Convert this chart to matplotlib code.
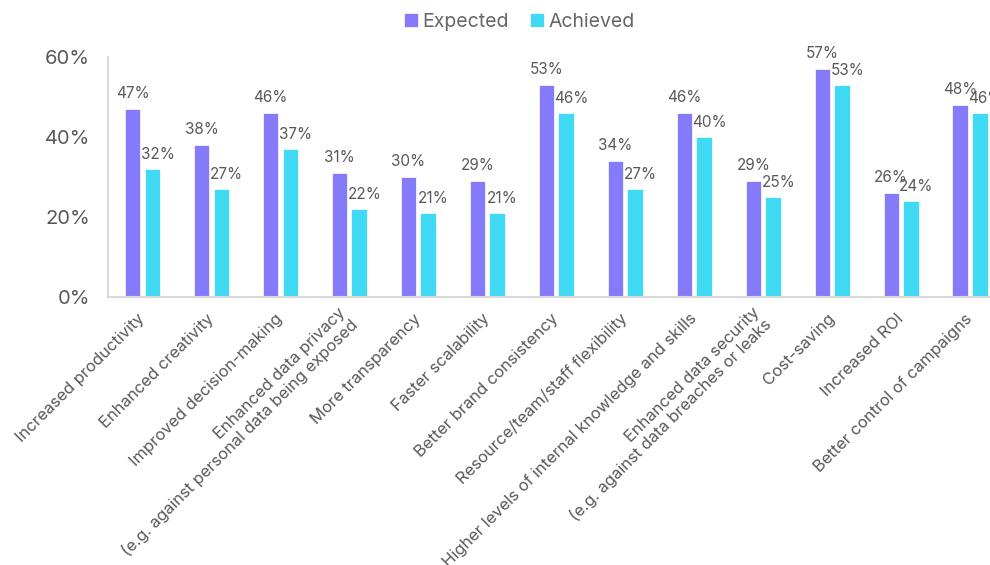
import matplotlib
matplotlib.use("Agg")
import matplotlib.pyplot as plt
import numpy as np

categories = [
    "Increased productivity",
    "Enhanced creativity",
    "Improved decision-making",
    "Enhanced data privacy\n(e.g. against personal data being exposed",
    "More transparency",
    "Faster scalability",
    "Better brand consistency",
    "Resource/team/staff flexibility",
    "Higher levels of internal knowledge and skills",
    "Enhanced data security\n(e.g. against data breaches or leaks",
    "Cost-saving",
    "Increased ROI",
    "Better control of campaigns",
]
expected = [47, 38, 46, 31, 30, 29, 53, 34, 46, 29, 57, 26, 48]
achieved = [32, 27, 37, 22, 21, 21, 46, 27, 40, 25, 53, 24, 46]
series_names = ["Expected", "Achieved"]
yticks = [0, 20, 40, 60]

c_exp = "#847AFA"
c_ach = "#40DAF5"
txt = "#595959"

plt.rcParams['font.family'] = ['Inter', 'DejaVu Sans']

fig = plt.figure(figsize=(9.9, 5.65), dpi=100)
W, H = 990, 565
ax = fig.add_axes([108 / W, (H - 297) / H, 896.6 / W, 240 / H])

x = np.arange(len(categories))
bw = 0.225
off = 0.143
b1 = ax.bar(x - off, expected, bw, color=c_exp, edgecolor="white", linewidth=0.5, label=series_names[0])
b2 = ax.bar(x + off, achieved, bw, color=c_ach, edgecolor="white", linewidth=0.5, label=series_names[1])

for xi, v in zip(x, expected):
    ax.annotate(f"{v}%", (xi - off, v), xytext=(0, 11.5), textcoords="offset points",
                ha="center", va="center", fontsize=11, color=txt, clip_on=False)
for xi, v in zip(x, achieved):
    ax.annotate(f"{v}%", (xi + off, v), xytext=(3.8, 10.3), textcoords="offset points",
                ha="center", va="center", fontsize=11, color=txt, clip_on=False)

ax.set_xlim(-0.5, len(categories) - 0.5)
ax.set_ylim(0, 60)
ax.set_yticks(yticks)
ax.set_yticklabels([f"{t}%" for t in yticks], fontsize=14.5, color=txt)
ax.tick_params(axis="y", length=0, pad=13)
ax.set_xticks(x)
ax.set_xticklabels(categories, rotation=45, ha="right", va="center", rotation_mode="anchor",
                   fontsize=11.9, color=txt, multialignment="right", linespacing=1.1)
ax.tick_params(axis="x", length=0, pad=14)

for s in ["top", "right"]:
    ax.spines[s].set_visible(False)
for s in ["left", "bottom"]:
    ax.spines[s].set_color("#D9D9D9")
    ax.spines[s].set_linewidth(1.5)

leg = fig.legend(handles=[b1, b2], labels=series_names, loc="center", bbox_to_anchor=(519.5 / W, 1 - 22 / H),
                 ncol=2, frameon=False, fontsize=14, handlelength=0.7, handleheight=0.7,
                 handletextpad=0.25, columnspacing=1.1, labelcolor="#666666")

fig.savefig("out.png", dpi=100)
